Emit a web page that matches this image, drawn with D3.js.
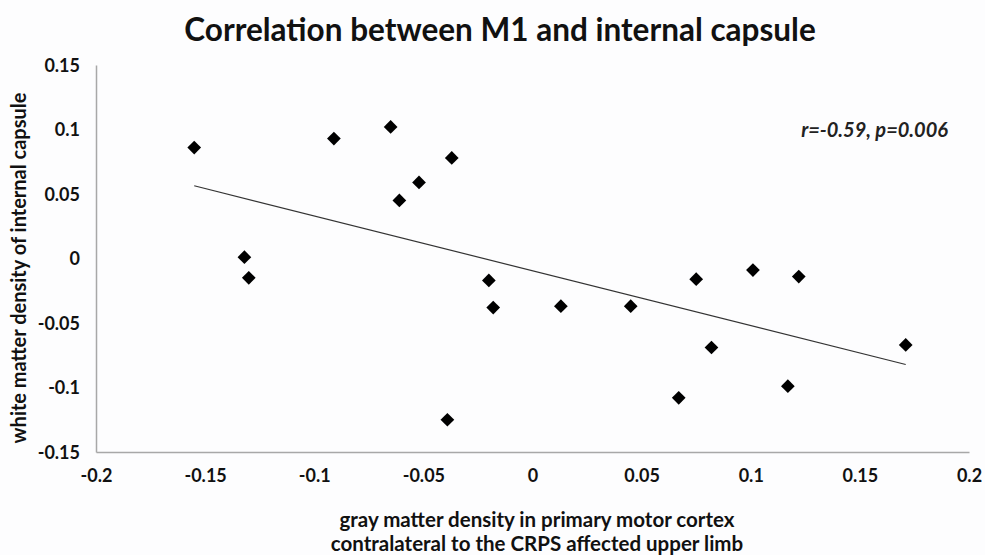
<!DOCTYPE html>
<head>
    <meta charset="utf-8">
    <script src="https://d3js.org/d3.v7.min.js"></script>
    <style>
        body { margin: 0; background: #fdfdfe; }
        svg { display: block; font-family: Lato, "Open Sans", sans-serif; }
    </style>
</head>
<body>
    <script>
        // gray matter density (x) vs white matter density (y)
        const grayM1 = [-0.155, -0.091, -0.065, -0.037, -0.052, -0.061, -0.132, -0.130,
            -0.020, -0.018, 0.013, 0.045, 0.075, 0.067, -0.039, 0.101, 0.122, 0.082, 0.117, 0.171];
        const whiteIC = [0.086, 0.093, 0.102, 0.078, 0.059, 0.045, 0.001, -0.015,
            -0.017, -0.038, -0.037, -0.037, -0.016, -0.108, -0.125, -0.009, -0.014, -0.069, -0.099, -0.067];
        const xTicks = [-0.2, -0.15, -0.1, -0.05, 0, 0.05, 0.1, 0.15, 0.2];
        const yTicks = [-0.15, -0.1, -0.05, 0, 0.05, 0.1, 0.15];

        const width = 985, height = 555;
        const svg = d3.select("body").append("svg")
            .attr("width", width).attr("height", height);

        const x = d3.scaleLinear().domain([-0.2, 0.2]).range([96, 969]);
        const y = d3.scaleLinear().domain([-0.15, 0.15]).range([452, 65]);

        const pts = grayM1.map((v, i) => ({ x: v, y: whiteIC[i] }));

        // axes
        const fmt = d => d === 0 ? "0" : String(d);
        const xAxis = svg.append("g").attr("transform", `translate(0,${y(-0.15)})`)
            .call(d3.axisBottom(x).tickValues(xTicks).tickSize(0).tickPadding(17).tickFormat(fmt));
        const yAxis = svg.append("g").attr("transform", `translate(${x(-0.2)},0)`)
            .call(d3.axisLeft(y).tickValues(yTicks).tickSize(0).tickPadding(16).tickFormat(fmt));

        [xAxis, yAxis].forEach(a => {
            a.select(".domain").attr("stroke", "#a8a8a8").attr("stroke-width", 1.5);
            a.selectAll("text").attr("font-size", 18).attr("font-weight", "bold")
                .attr("fill", "#111").attr("font-family", "Lato, sans-serif");
        });
        yAxis.selectAll("text").attr("dy", "0.35em");

        // regression line
        const mx = d3.mean(grayM1), my = d3.mean(whiteIC);
        const slope = d3.sum(pts, p => (p.x - mx) * (p.y - my)) / d3.sum(pts, p => (p.x - mx) ** 2);
        const icpt = my - slope * mx;
        const ext = d3.extent(grayM1);
        svg.append("line")
            .attr("x1", x(ext[0])).attr("y1", y(icpt + slope * ext[0]))
            .attr("x2", x(ext[1])).attr("y2", y(icpt + slope * ext[1]))
            .attr("stroke", "#333").attr("stroke-width", 1.2);

        // points
        svg.append("g").selectAll("path").data(pts).join("path")
            .attr("d", d3.symbol(d3.symbolDiamond2, 120))
            .attr("transform", d => `translate(${x(d.x)},${y(d.y)})`)
            .attr("fill", "#000");

        // title and labels
        svg.append("text").attr("x", 500).attr("y", 41).attr("text-anchor", "middle")
            .attr("font-size", 31.5).attr("font-weight", "bold").attr("fill", "#111")
            .text("Correlation between M1 and internal capsule");

        svg.append("text").attr("x", 948).attr("y", 137).attr("text-anchor", "end")
            .attr("font-size", 20).attr("font-weight", "bold").attr("font-style", "italic")
            .attr("fill", "#222").text("r=-0.59, p=0.006");

        const xl = svg.append("text").attr("text-anchor", "middle")
            .attr("font-size", 20.5).attr("font-weight", "bold").attr("fill", "#111");
        xl.append("tspan").attr("x", 537).attr("y", 527).text("gray matter density in primary motor cortex");
        xl.append("tspan").attr("x", 537).attr("y", 551).text("contralateral to the CRPS affected upper limb");

        svg.append("text").attr("transform", "translate(26,268) rotate(-90)")
            .attr("text-anchor", "middle").attr("font-size", 20).attr("font-weight", "bold")
            .attr("fill", "#111").text("white matter density of internal capsule");
    </script>
</body>
